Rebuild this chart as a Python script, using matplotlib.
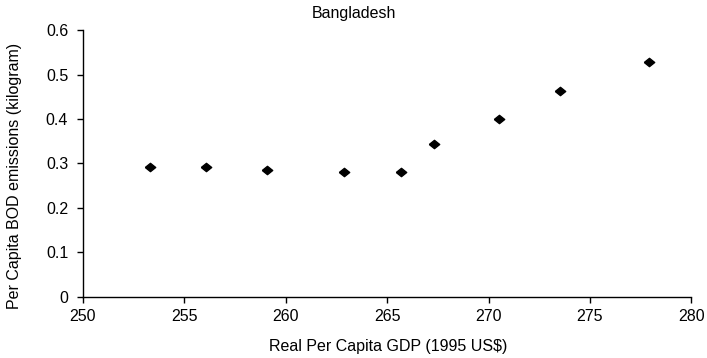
import numpy as np
import matplotlib
matplotlib.use("Agg")
from matplotlib import pyplot as plt

# data
gdp = [253.3, 256.1, 259.1, 262.9, 265.7, 267.3, 270.5, 273.5, 277.9]
bod = [0.291, 0.291, 0.286, 0.281, 0.281, 0.343, 0.399, 0.464, 0.528]
xticks = [250, 255, 260, 265, 270, 275, 280]
yticks = [0, 0.1, 0.2, 0.3, 0.4, 0.5, 0.6]
ytick_labels = ["0", "0.1", "0.2", "0.3", "0.4", "0.5", "0.6"]

plt.rcParams['font.family'] = ['Liberation Sans', 'DejaVu Sans']

fig = plt.figure(figsize=(7.07, 3.58), dpi=100)
ax = fig.add_axes([0.117, 0.171, 0.861, 0.745])

diamond = [(-1, 0), (0, 0.8), (1, 0), (0, -0.8), (-1, 0)]
ax.plot(gdp, bod, linestyle='none', marker=diamond, markersize=7.5,
        color='black')

ax.set_xlim(250, 280)
ax.set_ylim(0, 0.6)
ax.set_xticks(xticks)
ax.set_yticks(yticks)
ax.set_yticklabels(ytick_labels)
ax.tick_params(direction='out', length=4.5, width=1, labelsize=11.5,
               colors='black')
ax.tick_params(axis='x', pad=4.5)
ax.tick_params(axis='y', pad=6)

for s in ['top', 'right']:
    ax.spines[s].set_visible(False)
for s in ['left', 'bottom']:
    ax.spines[s].set_linewidth(1)

ax.set_xlabel('Real Per Capita GDP (1995 US$)', fontsize=11.5)
ax.xaxis.set_label_coords(0.501, -0.158)
ax.set_ylabel('Per Capita BOD emissions (kilogram)', fontsize=11.5)
ax.yaxis.set_label_coords(-0.10, 0.453)
fig.text(0.5, 0.963, 'Bangladesh', ha='center', va='center', fontsize=11.5)

fig.savefig('out.png', dpi=100)
